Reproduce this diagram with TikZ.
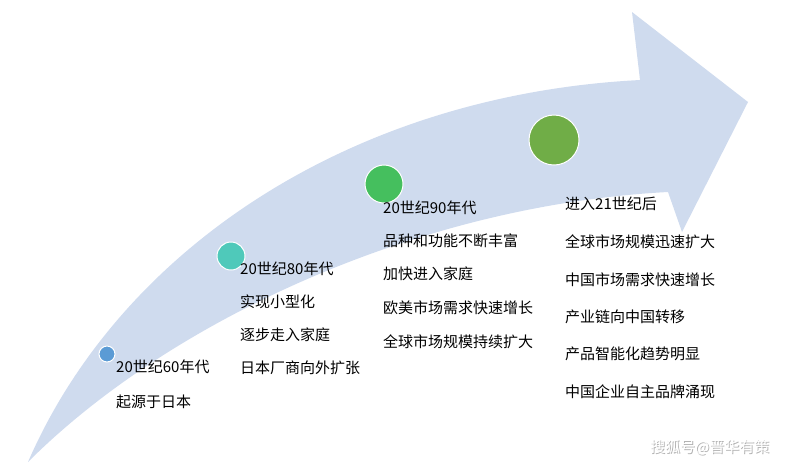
\documentclass[tikz,border=0pt]{standalone}
\usepackage{fontspec}
\newfontfamily\cjk{Noto Sans CJK SC}
\begin{document}
\begin{tikzpicture}[x=1pt,y=-1pt,
  lbl/.style={anchor=west,font=\cjk\fontsize{15}{16}\selectfont,inner sep=0pt},
  dot/.style={circle,draw=white,line width=1pt,inner sep=0pt}]
\useasboundingbox (0,0) rectangle (789,467);
\fill[fill={rgb,255:red,207;green,219;blue,238}] (28,462) .. controls (120,250) and (350,95) .. (640,80)
  -- (632,12) -- (748,102) -- (682,232) -- (668,192)
  .. controls (420,205) and (170,320) .. (28,462) -- cycle;
\node[dot,fill={rgb,255:red,91;green,155;blue,213},minimum size=16pt] (c1) at (107,354) {};
\node[dot,fill={rgb,255:red,79;green,201;blue,186},minimum size=28pt] (c2) at (231,256) {};
\node[dot,fill={rgb,255:red,69;green,191;blue,94},minimum size=38pt] (c3) at (384,184) {};
\node[dot,fill={rgb,255:red,112;green,173;blue,71},minimum size=50pt] (c4) at (554,140) {};
\node[lbl] (a1) at (116,367) {20世纪60年代};
\node[lbl] (a2) at (116,402) {起源于日本};
\node[lbl] (b1) at (240,269) {20世纪80年代};
\node[lbl] (b2) at (240,302) {实现小型化};
\node[lbl] (b3) at (240,335) {逐步走入家庭};
\node[lbl] (b4) at (240,368) {日本厂商向外扩张};
\node[lbl] (d1) at (383,208) {20世纪90年代};
\node[lbl] (d2) at (383,241) {品种和功能不断丰富};
\node[lbl] (d3) at (383,274) {加快进入家庭};
\node[lbl] (d4) at (383,308) {欧美市场需求快速增长};
\node[lbl] (d5) at (383,342) {全球市场规模持续扩大};
\node[lbl] (e1) at (565,204) {进入21世纪后};
\node[lbl] (e2) at (565,242) {全球市场规模迅速扩大};
\node[lbl] (e3) at (565,280) {中国市场需求快速增长};
\node[lbl] (e4) at (565,317) {产业链向中国转移};
\node[lbl] (e5) at (565,354) {产品智能化趋势明显};
\node[lbl] (e6) at (565,392) {中国企业自主品牌涌现};
\node[lbl,text=gray!60] at (651,448) {搜狐号@晋华有策};
\node[lbl,text=white] (wm) at (650,447) {搜狐号@晋华有策};
\end{tikzpicture}
\end{document}
